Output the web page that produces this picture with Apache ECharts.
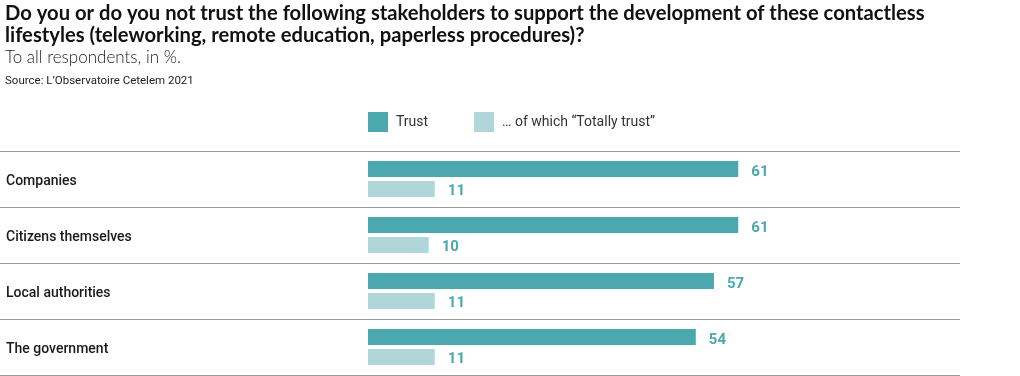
<!DOCTYPE html>
<html>
<head>
    <meta http-equiv="Content-Type" content="text/html; charset=utf-8"/>
    <script src="https://cdn.jsdelivr.net/npm/echarts@6/dist/echarts.min.js"></script>
    <style>
        body { margin: 0; background: #fff; }
    </style>
</head>
<body>
<div id="main" style="width:1020px;height:376px;"></div>
<script type="text/javascript">
    // categories and values
    var categories = ['Companies', 'Citizens themselves', 'Local authorities', 'The government'];
    var trustData = [61, 61, 57, 54];
    var totallyData = [11, 10, 11, 11];
    var seriesNames = ['Trust', '\u2026 of which \u201cTotally trust\u201d'];

    var dark = '#4aa8ae';
    var light = '#b1d6d9';

    // px per unit so that zero sits at x=368 while the split lines run from x=0
    var scale = 6.07;
    var gridW = 960;
    var zeroX = 368;

    var myChart = echarts.init(document.getElementById('main'));
    var option = {
        animation: false,
        title: [
            {
                text: 'Do you or do you not trust the following stakeholders to support the development of these contactless\nlifestyles (teleworking, remote education, paperless procedures)?',
                left: 0,
                top: -3,
                textStyle: {fontFamily: 'Lato', fontWeight: 'bold', fontSize: 20.2, lineHeight: 22, color: '#111'}
            },
            {
                text: 'To all respondents, in %.',
                left: 0,
                top: 44,
                textStyle: {fontFamily: 'Lato', fontWeight: 300, fontSize: 17, color: '#222'}
            },
            {
                text: 'Source: L\u2019Observatoire Cetelem 2021',
                left: 0,
                top: 70,
                textStyle: {fontFamily: 'Roboto', fontWeight: 'normal', fontSize: 11.5, color: '#222'}
            }
        ],
        legend: {
            left: 368,
            top: 112,
            padding: 0,
            itemWidth: 20,
            itemHeight: 20,
            itemGap: 46,
            icon: 'rect',
            textStyle: {fontFamily: 'Roboto', fontSize: 14, color: '#333', padding: [2, 0, 0, 3]},
            data: seriesNames
        },
        grid: {left: 0, width: gridW, top: 151, height: 224, containLabel: false},
        xAxis: {
            type: 'value',
            min: -zeroX / scale,
            max: (gridW - zeroX) / scale,
            show: false
        },
        yAxis: {
            type: 'category',
            inverse: true,
            data: categories,
            axisLine: {show: false},
            axisTick: {show: false},
            splitLine: {show: true, lineStyle: {color: '#9a9a9a', width: 1}},
            axisLabel: {
                inside: true,
                margin: 6,
                formatter: '{a|{value}}',
                rich: {
                    a: {
                        fontFamily: 'Roboto',
                        fontWeight: 500,
                        fontSize: 14,
                        color: '#1a1a1a',
                        padding: [4, 0, 0, 0]
                    }
                }
            }
        },
        series: [
            {
                name: seriesNames[0],
                type: 'bar',
                data: trustData,
                barWidth: 16,
                barGap: '25%',
                itemStyle: {color: dark},
                label: {
                    show: true, position: 'right', distance: 13, offset: [0, 3],
                    fontFamily: 'Roboto', fontWeight: 'bold', fontSize: 15, color: dark
                }
            },
            {
                name: seriesNames[1],
                type: 'bar',
                data: totallyData,
                barWidth: 16,
                itemStyle: {color: light},
                label: {
                    show: true, position: 'right', distance: 13, offset: [0, 2],
                    fontFamily: 'Roboto', fontWeight: 'bold', fontSize: 15, color: dark
                }
            }
        ]
    };
    myChart.setOption(option);
</script>
</body>
</html>
